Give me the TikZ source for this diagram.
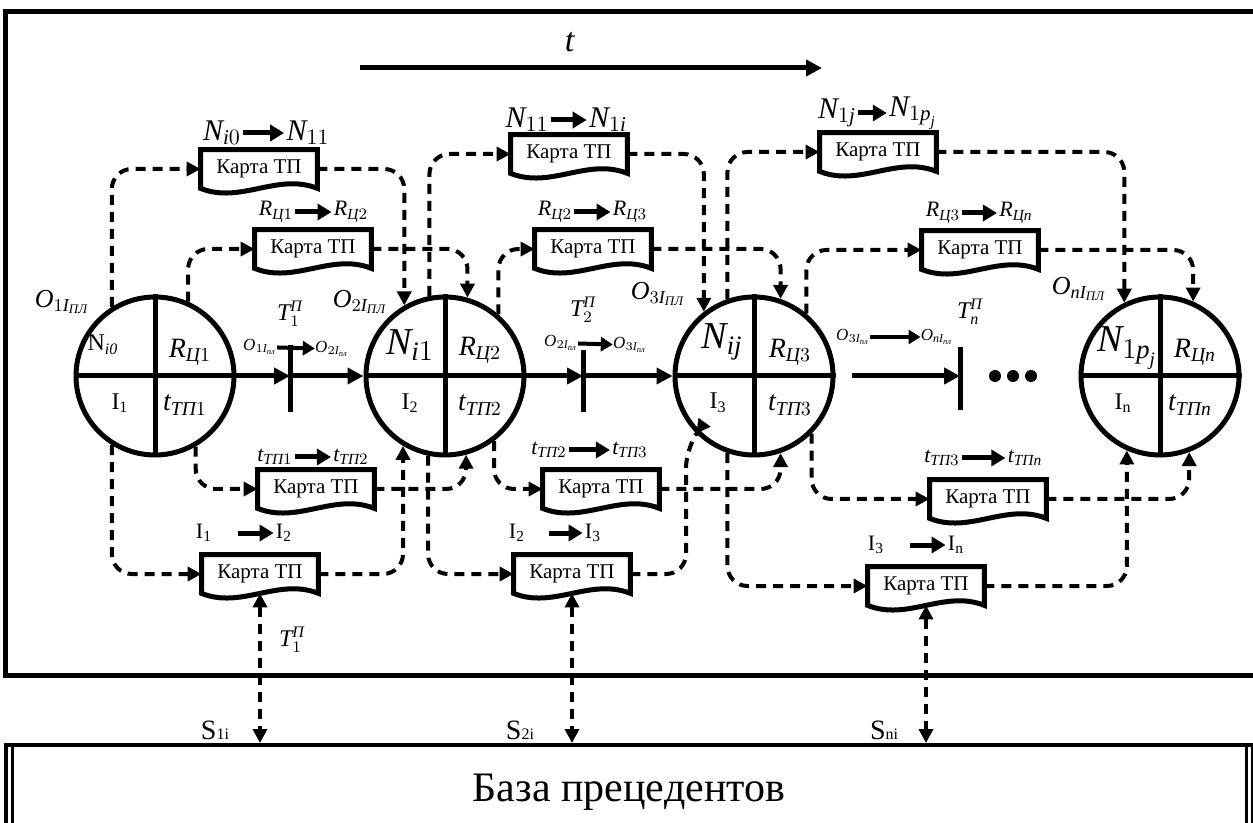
\documentclass[tikz,border=0pt]{standalone}
\usepackage{amsmath}
\usepackage{fontspec}
\setmainfont{Liberation Serif}
\usepackage{tikz}
\usetikzlibrary{arrows.meta}
\usetikzlibrary{calc}

\newcommand{\iv}[1]{\textit{#1}}
\newcommand{\karta}[2]{%
    \node[kartabox] (#1) at (#2) {Карта ТП};
    \draw[kartaline] (#1.north west) -- (#1.north east) -- (#1.south east)
        .. controls +(-40,-16) and +(40,16) .. (#1.south west) -- cycle;}

\begin{document}
\begin{tikzpicture}[
    x=0.5pt, y=-0.5pt,
    kruh/.style={circle, draw=black, line width=2.5pt, minimum size=79pt, inner sep=0pt},
    kartabox/.style={rectangle, minimum width=58pt, minimum height=19pt, inner sep=0pt,
        font=\fontsize{10.5}{12}\selectfont},
    kartaline/.style={line width=2.5pt, line join=miter},
    dbbox/.style={rectangle, draw=black, line width=2pt, minimum width=623.5pt,
        minimum height=47pt, font=\fontsize{21}{24}\selectfont},
    spoj/.style={line width=2pt, dash pattern=on 5pt off 3.5pt, rounded corners=10pt,
        -{Triangle[length=7pt,width=7pt]}},
    dvoj/.style={line width=2pt, dash pattern=on 5pt off 3.5pt,
        {Triangle[length=7pt,width=7pt]}-{Triangle[length=7pt,width=7pt]}},
    sipka/.style={line width=2.5pt, -{Triangle[length=8pt,width=8pt]}},
    psipka/.style={line width=2.5pt, -{Triangle[length=7pt,width=8pt]}},
    msipka/.style={line width=2pt, -{Triangle[length=6pt,width=7pt]}},
    bar/.style={line width=2.5pt},
    lbl/.style={inner sep=1pt},
    fbig/.style={lbl, font=\fontsize{19}{20}\selectfont},
    fmid/.style={lbl, font=\fontsize{14}{16}\selectfont},
    fsm/.style={lbl, font=\fontsize{12}{14}\selectfont},
    fout/.style={lbl, font=\fontsize{13}{15}\selectfont},
    ftr/.style={lbl, font=\fontsize{11}{13}\selectfont},
    ftiny/.style={lbl, inner sep=0pt, font=\fontsize{8.5}{10}\selectfont},
    fper/.style={inner sep=0pt, font=\fontsize{12}{14}\selectfont}
]
\useasboundingbox (0,0) rectangle (1253,823);

% frame and base
\draw[line width=2.5pt] (5,12) rectangle (1270,675);
\node[dbbox] (db) at (629,792) {База прецедентов};
\draw[line width=1.5pt] ([xshift=4.5pt]db.north west) -- ([xshift=4.5pt]db.south west);
\draw[line width=1.5pt] ([xshift=-4pt]db.north east) -- ([xshift=-4pt]db.south east);

% time axis
\coordinate (t0) at (360,68);
\coordinate (t1) at (822,68);
\draw[sipka] (t0) -- (t1);
\node[lbl, font=\fontsize{17}{19}\selectfont] (tl) at (570,42) {\iv{t}};

% states
\node[kruh] (c1) at (155,376) {};
\node[kruh] (c2) at (445,376) {};
\node[kruh] (c3) at (754,376) {};
\node[kruh] (c4) at (1160,376) {};
\foreach \c in {c1,c2,c3,c4}{
    \draw[bar] (\c.north) -- (\c.south);
    \draw[bar] (\c.west) -- (\c.east);
}

\node[fsm] (n1) at (103,345) {N$_{\iv{i0}}$};
\node[fmid] (r1) at (190,352) {$\iv{R}_{\iv{Ц}1}$};
\node[fsm] (i1) at (120,403) {I\textsubscript{1}};
\node[fmid] (s1) at (185,405) {$\iv{t}_{\iv{ТП}1}$};

\node[fbig] (n2) at (410,345) {$\iv{N}_{\iv{i}1}$};
\node[fmid] (r2) at (480,350) {$\iv{R}_{\iv{Ц}2}$};
\node[fsm] (i2) at (410,403) {I\textsubscript{2}};
\node[fmid] (s2) at (480,405) {$\iv{t}_{\iv{ТП}2}$};

\node[fbig] (n3) at (722,342) {$\iv{N}_{\iv{ij}}$};
\node[fmid] (r3) at (790,352) {$\iv{R}_{\iv{Ц}3}$};
\node[fsm] (i3) at (718,403) {I\textsubscript{3}};
\node[fmid] (s3) at (790,405) {$\iv{t}_{\iv{ТП}3}$};

\node[fbig] (n4) at (1127,348) {$\iv{N}_{1\iv{p}_{\iv{j}}}$};
\node[fmid] (r4) at (1195,352) {$\iv{R}_{\iv{Цn}}$};
\node[fsm] (i4) at (1123,403) {I\textsubscript{n}};
\node[fmid] (s4) at (1190,405) {$\iv{t}_{\iv{ТПn}}$};

\node[fout] (o1) at (62,302) {$\iv{O}_{1\iv{I}_{\iv{ПЛ}}}$};
\node[fout] (o2) at (360,302) {$\iv{O}_{2\iv{I}_{\iv{ПЛ}}}$};
\node[fout] (o3) at (658,294) {$\iv{O}_{3\iv{I}_{\iv{ПЛ}}}$};
\node[fout] (o4) at (1079,289) {$\iv{O}_{\iv{nI}_{\iv{ПЛ}}}$};

% transitions between states
\coordinate (tk1) at (290,376);
\coordinate (tk2) at (583,376);
\coordinate (a3) at (852,376);
\coordinate (tk3) at (960,376);
\draw[sipka] (c1) -- (tk1);
\draw[sipka] (tk1) -- (c2);
\draw[sipka] (c2) -- (tk2);
\draw[sipka] (tk2) -- (c3);
\draw[sipka] (a3) -- (tk3);
\draw[bar] ($(tk1)+(0,-31)$) -- ($(tk1)+(0,36)$);
\draw[bar] ($(tk2)+(0,-26)$) -- ($(tk2)+(0,36)$);
\draw[bar] ($(tk3)+(0,-29)$) -- ($(tk3)+(0,34)$);
\foreach \x in {995,1013,1031}
    \fill (\x,376) circle (3pt);

\node[fper] (tp1) at (290,314) {$\iv{T}_1^{\iv{П}}$};
\node[ftiny] (q1a) at (260,347) {$\iv{O}_{1\iv{I}_{\iv{пл}}}$};
\node[ftiny] (q1b) at (332,349) {$\iv{O}_{2\iv{I}_{\iv{пл}}}$};
\draw[msipka] (q1a) -- (q1b);

\node[fper] (tp2) at (583,310) {$\iv{T}_2^{\iv{П}}$};
\node[ftiny] (q2a) at (561,343) {$\iv{O}_{2\iv{I}_{\iv{пл}}}$};
\node[ftiny] (q2b) at (630,345) {$\iv{O}_{3\iv{I}_{\iv{пл}}}$};
\draw[msipka] (q2a) -- (q2b);

\node[fper] (tp3) at (970,312) {$\iv{T}_{\iv{n}}^{\iv{П}}$};
\node[ftiny] (q3a) at (853,337) {$\iv{O}_{3\iv{I}_{\iv{пл}}}$};
\node[ftiny] (q3b) at (937,337) {$\iv{O}_{\iv{nI}_{\iv{пл}}}$};
\draw[msipka] (q3a) -- (q3b);

% process maps
\karta{k1n}{259,169}
\karta{k1r}{313,249}
\karta{k1t}{316,489}
\karta{k1i}{260,574}
\karta{k2n}{569,154}
\karta{k2r}{593,249}
\karta{k2t}{601,489}
\karta{k2i}{572,574}
\karta{k3n}{878,152}
\karta{k3r}{980,250}
\karta{k3t}{988,499}
\karta{k3i}{926,586}

% map labels
\node[lbl, font=\fontsize{15}{17}\selectfont] (m1a) at (222,133) {$\iv{N}_{\iv{i}0}$};
\node[lbl, font=\fontsize{15}{17}\selectfont] (m1b) at (308,133) {$\iv{N}_{11}$};
\draw[psipka] (m1a) -- (m1b);
\node[ftr] (m2a) at (276,212) {$\iv{R}_{\iv{Ц}1}$};
\node[ftr] (m2b) at (351,212) {$\iv{R}_{\iv{Ц}2}$};
\draw[psipka] (m2a) -- (m2b);
\node[ftr] (m3a) at (275,457) {$\iv{t}_{\iv{ТП}1}$};
\node[ftr] (m3b) at (351,457) {$\iv{t}_{\iv{ТП}2}$};
\draw[psipka] (m3a) -- (m3b);
\node[ftr] (m4a) at (204,533) {I\textsubscript{1}};
\node[ftr] (m4b) at (284,533) {I\textsubscript{2}};
\draw[psipka, shorten <=12pt] (m4a) -- (m4b);

\node[lbl, font=\fontsize{15}{17}\selectfont] (m5a) at (527,120) {$\iv{N}_{11}$};
\node[lbl, font=\fontsize{15}{17}\selectfont] (m5b) at (608,120) {$\iv{N}_{1\iv{i}}$};
\draw[psipka] (m5a) -- (m5b);
\node[ftr] (m6a) at (555,212) {$\iv{R}_{\iv{Ц}2}$};
\node[ftr] (m6b) at (630,212) {$\iv{R}_{\iv{Ц}3}$};
\draw[psipka] (m6a) -- (m6b);
\node[ftr] (m7a) at (549,450) {$\iv{t}_{\iv{ТП}2}$};
\node[ftr] (m7b) at (630,450) {$\iv{t}_{\iv{ТП}3}$};
\draw[psipka] (m7a) -- (m7b);
\node[ftr] (m8a) at (517,533) {I\textsubscript{2}};
\node[ftr] (m8b) at (593,533) {I\textsubscript{3}};
\draw[psipka, shorten <=11pt] (m8a) -- (m8b);

\node[lbl, font=\fontsize{15}{17}\selectfont] (m9a) at (837,113) {$\iv{N}_{1\iv{j}}$};
\node[lbl, font=\fontsize{15}{17}\selectfont] (m9b) at (913,113) {$\iv{N}_{1\iv{p}_{\iv{j}}}$};
\draw[psipka] (m9a) -- (m9b);
\node[ftr] (m10a) at (943,213) {$\iv{R}_{\iv{Ц}3}$};
\node[ftr] (m10b) at (1016,213) {$\iv{R}_{\iv{Цn}}$};
\draw[psipka] (m10a) -- (m10b);
\node[ftr] (m11a) at (942,458) {$\iv{t}_{\iv{ТП}3}$};
\node[ftr] (m11b) at (1025,458) {$\iv{t}_{\iv{ТПn}}$};
\draw[psipka] (m11a) -- (m11b);
\node[ftr] (m12a) at (876,545) {I\textsubscript{3}};
\node[ftr] (m12b) at (956,545) {I\textsubscript{n}};
\draw[psipka, shorten <=12pt] (m12a) -- (m12b);

% dashed links, column 1
\draw[spoj] (c1.122) |- (k1n);
\draw[spoj] (k1n) -| (c2.120);
\draw[spoj] (c1.66) |- (k1r);
\draw[spoj] (k1r) -| (c2.74);
\draw[spoj] (c1.300) |- (k1t);
\draw[spoj] (k1t) -| (c2.285);
\draw[spoj] (c1.238) |- (k1i);
\draw[spoj] (k1i) -| (c2.239);
% column 2
\coordinate (j3) at (686,448);
\draw[spoj] (c2.101) |- (k2n);
\draw[spoj] (k2n) -| (c3.128);
\draw[spoj] (c2.49) |- (k2r);
\draw[spoj] (k2r) -| (c3.71);
\draw[spoj] (c2.307) |- (k2t);
\draw[spoj] (k2t) -| (c3.289);
\draw[spoj] (c2.258) |- (k2i);
\draw[spoj] (k2i) -| (j3) -- (c3.225);
% column 3
\draw[spoj] (c3.109) |- (k3n);
\draw[spoj] (k3n) -| (c4.116);
\draw[spoj] (c3.50) |- (k3r);
\draw[spoj] (k3r) -| (c4.66);
\draw[spoj] (c3.315) |- (k3t);
\draw[spoj] (k3t) -| (c4.291);
\draw[spoj] (c3.251) |- (k3i);
\draw[spoj] (k3i) -| (c4.246);

% links to the base
\draw[dvoj] (k1i.south) -- (k1i.south |- db.north);
\draw[dvoj] (k2i.south) -- (k2i.south |- db.north);
\draw[dvoj] (k3i.south) -- (k3i.south |- db.north);
\node[fper] (tb1) at (292,640) {$\iv{T}_1^{\iv{П}}$};
\node[lbl, font=\fontsize{14}{16}\selectfont] (sb1) at (215,730) {S{\footnotesize 1i}};
\node[lbl, font=\fontsize{14}{16}\selectfont] (sb2) at (520,730) {S{\footnotesize 2i}};
\node[lbl, font=\fontsize{14}{16}\selectfont] (sb3) at (884,730) {S{\footnotesize ni}};
\end{tikzpicture}
\end{document}
